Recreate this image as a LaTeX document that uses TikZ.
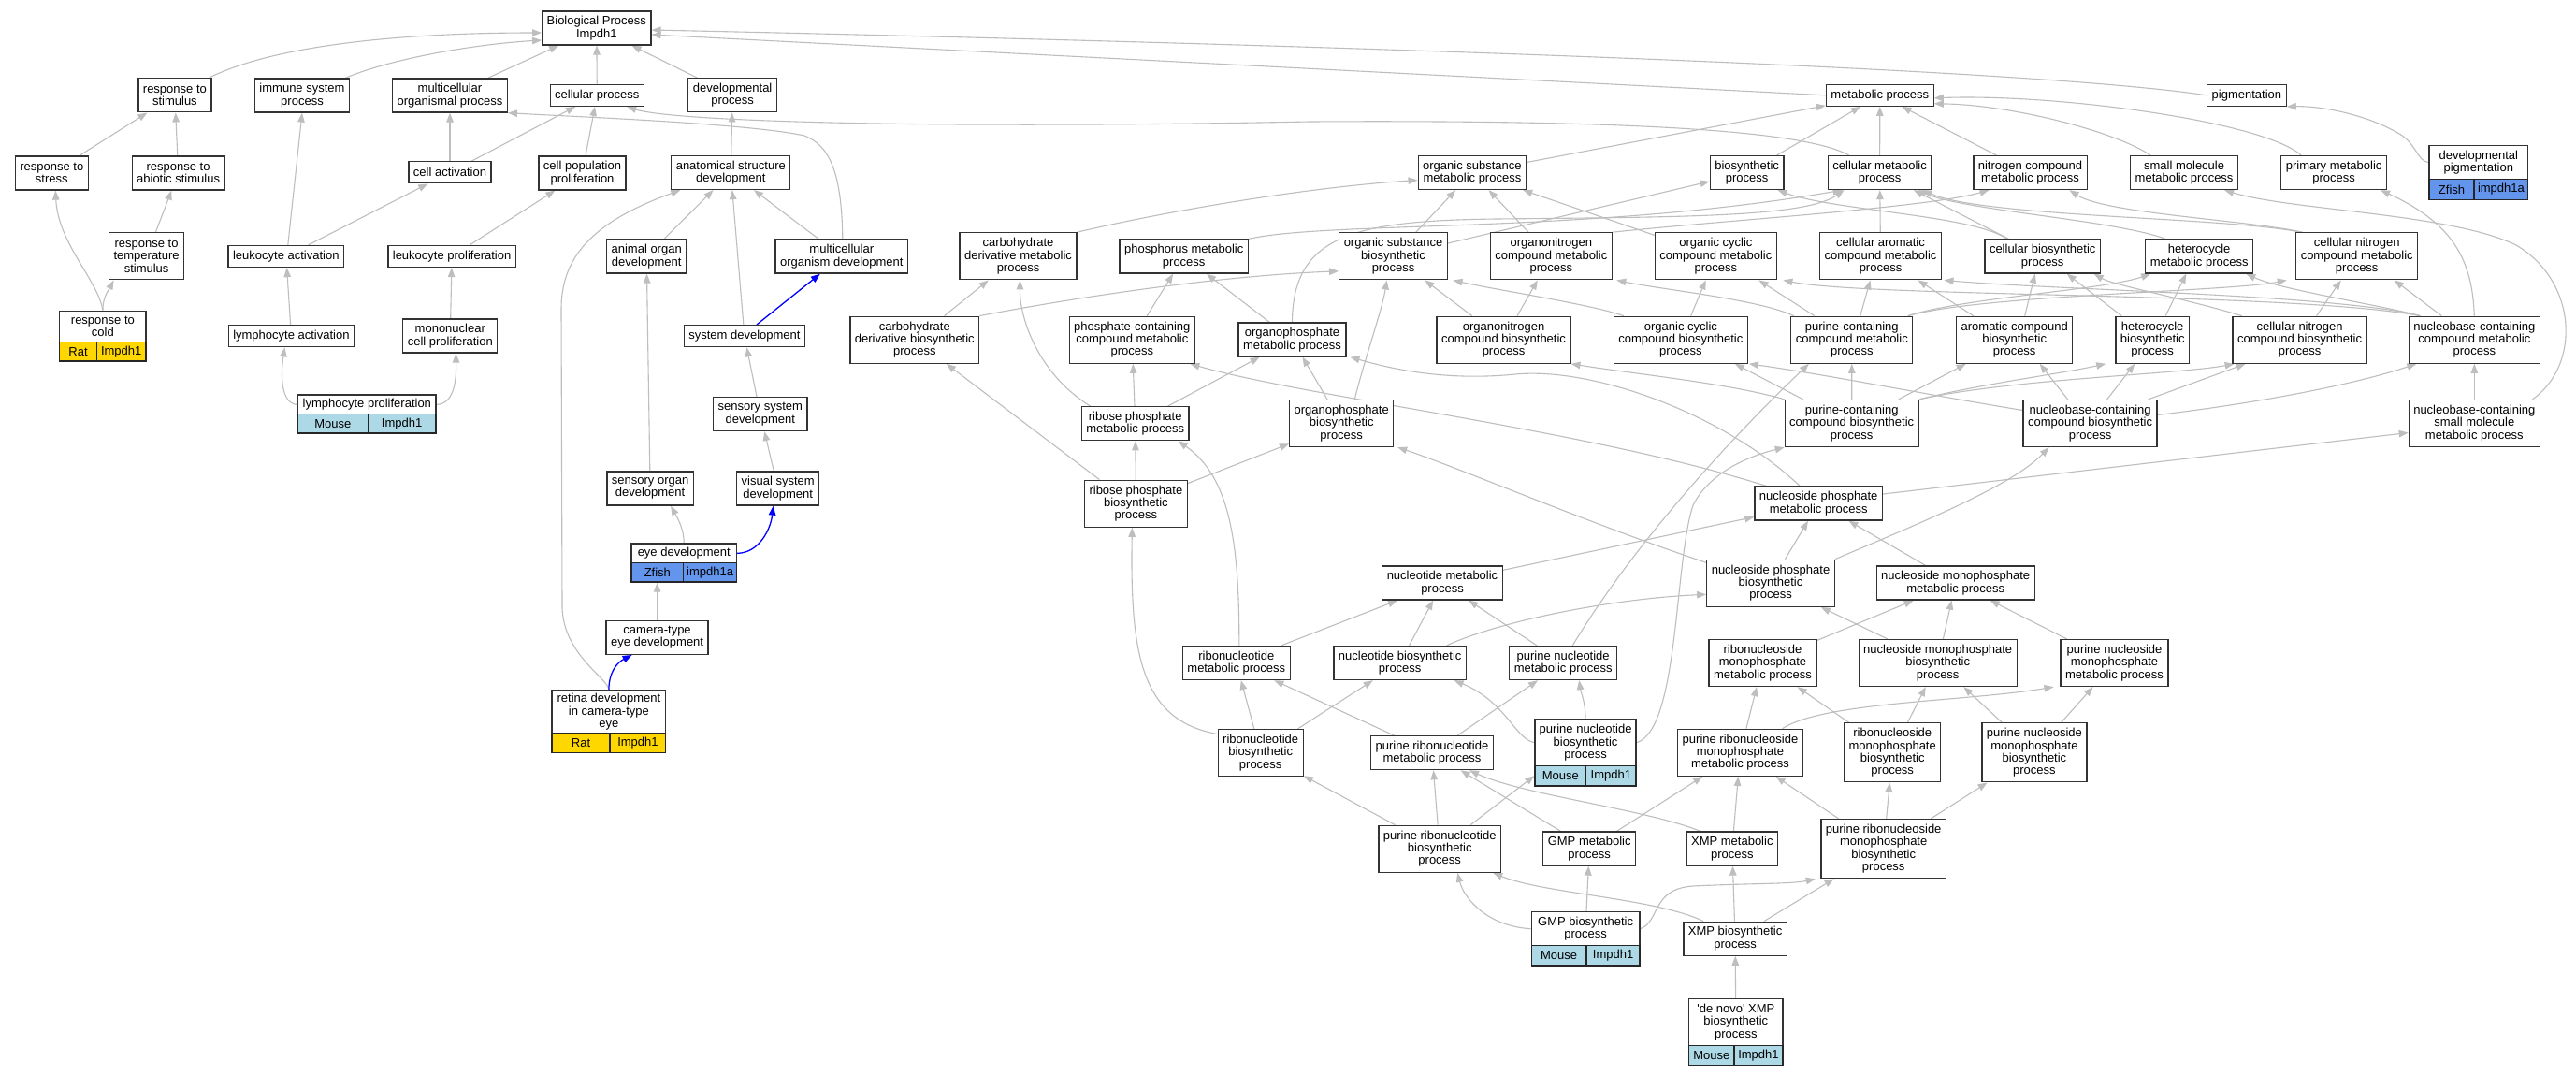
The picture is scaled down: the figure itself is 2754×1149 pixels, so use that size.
\documentclass[tikz,border=0pt]{standalone}
\usepackage{fontspec}
\setmainfont{Liberation Sans}[Ligatures=TeXOff]
\usetikzlibrary{arrows.meta}
\pgfdeclarelayer{bg}
\pgfsetlayers{bg,main}
\definecolor{edgegray}{HTML}{BEBEBE}
\definecolor{ratgold}{HTML}{FFD700}
\definecolor{mouseblue}{HTML}{ADD8E6}
\definecolor{fishblue}{HTML}{6495ED}
\newcommand\nodefont{\fontsize{13}{13.3}\selectfont}
\tikzset{
  gbox/.style={draw=black!80, line width=1.3pt, fill=white, align=center, inner xsep=5pt, inner ysep=1pt, font=\nodefont},
  lineone/.style={gbox, minimum height=23pt},
  linetwo/.style={gbox, minimum height=36pt},
  linethree/.style={gbox, minimum height=50pt},
  linefour/.style={gbox, minimum height=63pt},
  genehead/.style={gbox, inner xsep=2pt},
  genecell/.style={draw=black!85, line width=1.3pt, inner sep=0pt, font=\nodefont},
  gedge/.style={draw=edgegray, line width=1.1pt, -{Triangle[length=10pt,width=7.5pt]}},
  bedge/.style={draw=blue, line width=1.3pt, -{Triangle[length=10pt,width=7.5pt]}}
}
\begin{document}
\begin{tikzpicture}[x=1pt,y=-1pt]
\useasboundingbox (0,0) rectangle (2754,1149);
\begin{pgfonlayer}{bg}
\fill[white] (0,0) rectangle (2754,1149);
\end{pgfonlayer}
% rank 0
\node[linetwo] (BP) at (637.8,30) {Biological Process\\Impdh1};
% rank 1
\node[linetwo] (rstim) at (186.9,101.8) {response to\\stimulus};
\node[linetwo] (immune) at (323,102) {immune system\\process};
\node[linetwo] (multorg) at (481,102) {multicellular\\organismal process};
\node[lineone] (cellproc) at (638.3,101.8) {cellular process};
\node[linetwo] (devproc) at (783.1,101.8) {developmental\\process};
\node[lineone] (metab) at (2009.8,101.8) {metabolic process};
\node[lineone] (pigment) at (2401.9,101.8) {pigmentation};
% rank 2
\node[linetwo] (rstress) at (55.3,185) {response to\\stress};
\node[linetwo] (rabiotic) at (190.6,185) {response to\\abiotic stimulus};
\node[lineone] (cellact) at (481,184.3) {cell activation};
\node[linetwo] (cellpop) at (622.5,185) {cell population\\proliferation};
\node[linetwo] (anat) at (781.3,184.5) {anatomical structure\\development};
\node[linetwo] (osmp) at (1573.9,184.5) {organic substance\\metabolic process};
\node[linetwo] (biosyn) at (1867.6,184.5) {biosynthetic\\process};
\node[linetwo] (cmp) at (2009.6,184.5) {cellular metabolic\\process};
\node[linetwo] (ncmp) at (2170.5,184.5) {nitrogen compound\\metabolic process};
\node[linetwo] (smmp) at (2335.1,184.5) {small molecule\\metabolic process};
\node[linetwo] (pmp) at (2495.1,184.5) {primary metabolic\\process};
\node[genehead, minimum width=105.8pt, minimum height=36.4pt] (devpig) at (2649.8,173.5) {developmental\\pigmentation};
\node[genecell, fill=fishblue, minimum width=48.2pt, minimum height=21.6pt] (devpigA) at (2621,202.5) {Zfish};
\node[genecell, fill=fishblue, minimum width=57.6pt, minimum height=21.6pt] (devpigB) at (2673.9,202.5) {impdh1a};
% rank 3
\node[linethree] (rtemp) at (156.6,273.8) {response to\\temperature\\stimulus};
\node[lineone] (leukact) at (305.8,274) {leukocyte activation};
\node[lineone] (leukprolif) at (483.1,274) {leukocyte proliferation};
\node[linetwo] (aod) at (691.2,274) {animal organ\\development};
\node[linetwo] (moddev) at (899.8,274) {multicellular\\organism development};
\node[linethree] (cdmp) at (1088.5,273.8) {carbohydrate\\derivative metabolic\\process};
\node[linetwo] (phosmp) at (1265.7,274) {phosphorus metabolic\\process};
\node[linethree] (osbp) at (1489.5,273.8) {organic substance\\biosynthetic\\process};
\node[linethree] (onmp) at (1658.3,273.8) {organonitrogen\\compound metabolic\\process};
\node[linethree] (occmp) at (1834.4,273.8) {organic cyclic\\compound metabolic\\process};
\node[linethree] (cacmp) at (2010.5,273.8) {cellular aromatic\\compound metabolic\\process};
\node[linetwo] (cbp) at (2183.7,274) {cellular biosynthetic\\process};
\node[linetwo] (hmp) at (2351.2,274) {heterocycle\\metabolic process};
\node[linethree] (cncmp) at (2519.7,273.8) {cellular nitrogen\\compound metabolic\\process};
% rank 4
\node[genehead, minimum width=92.4pt, minimum height=33.4pt] (rcold) at (109.9,349) {response to\\cold};
\node[genecell, fill=ratgold, minimum width=39.6pt, minimum height=20.3pt] (rcoldA) at (83.5,375.85) {Rat};
\node[genecell, fill=ratgold, minimum width=52.8pt, minimum height=20.3pt] (rcoldB) at (129.7,375.85) {Impdh1};
\node[lineone] (lymphact) at (311.4,359.2) {lymphocyte activation};
\node[linetwo] (mononuc) at (481.3,359) {mononuclear\\cell proliferation};
\node[lineone] (sysdev) at (795.9,359.2) {system development};
\node[linethree] (cdbp) at (977.8,363.2) {carbohydrate\\derivative biosynthetic\\process};
\node[linethree] (pccmp) at (1210.3,363.2) {phosphate-containing\\compound metabolic\\process};
\node[linetwo] (opmp) at (1381.5,363) {organophosphate\\metabolic process};
\node[linethree] (onbp) at (1607.5,363.2) {organonitrogen\\compound biosynthetic\\process};
\node[linethree] (occbp) at (1796.9,363.2) {organic cyclic\\compound biosynthetic\\process};
\node[linethree] (purcmp) at (1979.8,363.2) {purine-containing\\compound metabolic\\process};
\node[linethree] (acbp) at (2153.7,363.2) {aromatic compound\\biosynthetic\\process};
\node[linethree] (hbp) at (2301.2,363.2) {heterocycle\\biosynthetic\\process};
\node[linethree] (cncbp) at (2458.6,363.2) {cellular nitrogen\\compound biosynthetic\\process};
\node[linethree] (nbccmp) at (2645.3,363.2) {nucleobase-containing\\compound metabolic\\process};
% rank 5
\node[genehead, minimum width=147.5pt, minimum height=20.7pt] (lymphprolif) at (392.35,432.35) {lymphocyte proliferation};
\node[genecell, fill=mouseblue, minimum width=74.6pt, minimum height=20.3pt] (lpA) at (355.9,452.85) {Mouse};
\node[genecell, fill=mouseblue, minimum width=72.9pt, minimum height=20.3pt] (lpB) at (429.65,452.85) {Impdh1};
\node[linetwo] (ssd) at (812.8,442.5) {sensory system\\development};
\node[linetwo] (rpmp) at (1213.7,452.7) {ribose phosphate\\metabolic process};
\node[linethree] (opbp) at (1434.2,452.5) {organophosphate\\biosynthetic\\process};
\node[linethree] (purcbp) at (1979.7,452.5) {purine-containing\\compound biosynthetic\\process};
\node[linethree] (nbcbp) at (2234.6,452.5) {nucleobase-containing\\compound biosynthetic\\process};
\node[linethree] (nbcsmmp) at (2645.3,452.5) {nucleobase-containing\\small molecule\\metabolic process};
% rank 6
\node[linetwo] (sod) at (695.1,522) {sensory organ\\development};
\node[linetwo] (vsd) at (831.7,522) {visual system\\development};
\node[linethree] (rpbp) at (1214.4,538.2) {ribose phosphate\\biosynthetic\\process};
\node[linetwo] (npmp) at (1944.2,538) {nucleoside phosphate\\metabolic process};
% rank 7
\node[genehead, minimum width=112.5pt, minimum height=20.7pt] (eyedev) at (731.25,591.35) {eye development};
\node[genecell, fill=fishblue, minimum width=55.7pt, minimum height=20.3pt] (eyeA) at (702.85,611.85) {Zfish};
\node[genecell, fill=fishblue, minimum width=56.8pt, minimum height=20.3pt] (eyeB) at (759.1,611.85) {impdh1a};
\node[linetwo] (nmp) at (1542,623) {nucleotide metabolic\\process};
\node[linethree] (npbp) at (1893,623.3) {nucleoside phosphate\\biosynthetic\\process};
\node[linetwo] (nmmp) at (2090.7,623) {nucleoside monophosphate\\metabolic process};
% rank 8
\node[linetwo] (camera) at (702.6,681.3) {camera-type\\eye development};
\node[linetwo] (rnmp) at (1321.8,708.5) {ribonucleotide\\metabolic process};
\node[linetwo] (ntbp) at (1496.7,708.5) {nucleotide biosynthetic\\process};
\node[linetwo] (pnmp) at (1671.2,708.5) {purine nucleotide\\metabolic process};
\node[linethree] (rnmmp) at (1884.5,708.5) {ribonucleoside\\monophosphate\\metabolic process};
\node[linethree] (nmbp) at (2071.7,708.5) {nucleoside monophosphate\\biosynthetic\\process};
\node[linethree] (pnmmp) at (2260.5,708.5) {purine nucleoside\\monophosphate\\metabolic process};
% rank 9
\node[genehead, minimum width=121.8pt, minimum height=46.3pt] (retina) at (650.9,760.85) {retina development\\in camera-type\\eye};
\node[genecell, fill=ratgold, minimum width=62.1pt, minimum height=20.3pt] (retA) at (621.05,794.15) {Rat};
\node[genecell, fill=ratgold, minimum width=59.7pt, minimum height=20.3pt] (retB) at (681.95,794.15) {Impdh1};
\node[linethree] (rnbp) at (1347.7,804.5) {ribonucleotide\\biosynthetic\\process};
\node[linetwo] (prnmp) at (1531,804.7) {purine ribonucleotide\\metabolic process};
\node[genehead, minimum width=108.1pt, minimum height=49.3pt] (pnbp) at (1695.05,793.65) {purine nucleotide\\biosynthetic\\process};
\node[genecell, fill=mouseblue, minimum width=54.5pt, minimum height=21.7pt] (pnbpA) at (1668.25,829.15) {Mouse};
\node[genecell, fill=mouseblue, minimum width=53.6pt, minimum height=21.7pt] (pnbpB) at (1722.3,829.15) {Impdh1};
\node[linethree] (prnmmp) at (1860.5,804.3) {purine ribonucleoside\\monophosphate\\metabolic process};
\node[linefour] (rnmbp) at (2023.2,804.3) {ribonucleoside\\monophosphate\\biosynthetic\\process};
\node[linefour] (pnmbp) at (2174.9,804.3) {purine nucleoside\\monophosphate\\biosynthetic\\process};
% rank 10
\node[linethree] (prnbp) at (1539.2,907.2) {purine ribonucleotide\\biosynthetic\\process};
\node[linetwo] (gmpmp) at (1699.2,907) {GMP metabolic\\process};
\node[linetwo] (xmpmp) at (1851.8,907) {XMP metabolic\\process};
\node[linefour] (prnmbp) at (2013.7,907.2) {purine ribonucleoside\\monophosphate\\biosynthetic\\process};
% rank 11
\node[genehead, minimum width=115.8pt, minimum height=36pt] (gmpbp) at (1695.1,992.7) {GMP biosynthetic\\process};
\node[genecell, fill=mouseblue, minimum width=58.9pt, minimum height=21.3pt] (gmpA) at (1666.65,1021.35) {Mouse};
\node[genecell, fill=mouseblue, minimum width=56.9pt, minimum height=21.3pt] (gmpB) at (1724.55,1021.35) {Impdh1};
\node[linetwo] (xmpbp) at (1855.1,1003.2) {XMP biosynthetic\\process};
% rank 12
\node[genehead, minimum width=100.4pt, minimum height=49.6pt] (denovo) at (1855.8,1092.5) {'de novo' XMP\\biosynthetic\\process};
\node[genecell, fill=mouseblue, minimum width=48.3pt, minimum height=21pt] (dnA) at (1829.75,1127.8) {Mouse};
\node[genecell, fill=mouseblue, minimum width=52.1pt, minimum height=21pt] (dnB) at (1879.95,1127.8) {Impdh1};

\begin{pgfonlayer}{bg}
% ---- upper / developmental part
\draw[gedge] ([xshift=-3pt]rstim.north east) .. controls (300,45) and (450,35) .. ([yshift=-5pt]BP.west);
\draw[gedge] ([xshift=-5pt]immune.north east) .. controls (420,62) and (510,47) .. ([yshift=-13pt]BP.west);
\draw[gedge] (multorg) -- (BP);
\draw[gedge] (cellproc) -- (BP);
\draw[gedge] (devproc) -- (BP);
\draw[gedge] (metab.west) -- ([yshift=-7pt]BP.east);
\draw[gedge] (pigment.west) .. controls (2150,70) and (1300,45) .. ([yshift=-2pt]BP.east);
\draw[gedge] (rstress) -- (rstim);
\draw[gedge] (rabiotic) -- (rstim);
\draw[gedge] (rtemp) -- (rabiotic);
\draw[gedge] (rcold.north) .. controls (105,300) and (62,260) .. ([xshift=4pt]rstress.south);
\draw[gedge] (rcold.north) .. controls (110,318) and (115,312) .. ([xshift=-35pt]rtemp.south);
\draw[gedge] ([xshift=2pt]leukact.north) -- (immune.south);
\draw[gedge] (leukact) -- (cellact);
\draw[gedge] (cellact) -- (cellproc);
\draw[gedge] (cellpop) -- (cellproc);
\draw[gedge] (cellact) -- (multorg);
\draw[gedge] (leukprolif) -- (cellpop);
\draw[gedge] (lymphact) -- (leukact);
\draw[gedge] (mononuc) -- (leukprolif);
\draw[gedge] (lymphprolif.west) .. controls (300,432) and (300,400) .. ([xshift=-7pt]lymphact.south);
\draw[gedge] (lymphprolif.east) .. controls (486,432) and (488,405) .. ([xshift=6pt]mononuc.south);
\draw[gedge] ([xshift=-33pt]cmp.north) .. controls (1930,140) and (1750,128) .. (1400,130) .. controls (1000,138) and (720,130) .. ([xshift=32pt]cellproc.south);
\draw[gedge] ([xshift=1pt]moddev.north) .. controls (900,180) and (885,155) .. (860,145) .. controls (800,132) and (620,125) .. (multorg.south east);
\draw[gedge] (anat) -- (devproc);
\draw[gedge] (aod) -- (anat);
\draw[gedge] (sysdev) -- (anat);
\draw[gedge] (moddev) -- (anat);
\draw[gedge] (retina.north) .. controls (650,725) and (603,700) .. (601,650) -- (600,330) .. controls (600,270) and (640,235) .. ([xshift=-54pt]anat.south);
\draw[bedge] ([xshift=13pt]sysdev.north) -- ([xshift=-23pt]moddev.south);
\draw[gedge] (sod) -- (aod);
\draw[gedge] (ssd) -- (sysdev);
\draw[gedge] (vsd) -- (ssd);
\draw[gedge] (eyedev.north) .. controls (731,565) and (725,555) .. ([xshift=22pt]sod.south);
\draw[bedge] (eyedev.east) .. controls (812,591) and (824,565) .. ([xshift=-5pt]vsd.south);
\draw[gedge] (camera.north) -- (camera.north |- eyeA.south);
\draw[bedge] (retina.north) .. controls (651,718) and (660,708) .. ([xshift=-27pt]camera.south);
\draw[gedge] (devpig.west) .. controls (2585,173) and (2582,152) .. (2565,143) .. controls (2530,122) and (2480,113) .. (pigment.south east);
% ---- metabolic part, rank 2
\draw[gedge] (osmp) -- (metab);
\draw[gedge] (biosyn) -- (metab);
\draw[gedge] (cmp) -- (metab);
\draw[gedge] (ncmp) -- (metab);
\draw[gedge] ([xshift=-36pt]smmp.north) .. controls (2260,140) and (2150,112) .. ([yshift=-9pt]metab.east);
\draw[gedge] ([xshift=-35pt]pmp.north) .. controls (2420,130) and (2200,100) .. ([yshift=-3pt]metab.east);
% rank 3
\draw[gedge] (cdmp.north east) .. controls (1250,225) and (1400,200) .. ([yshift=-8pt]osmp.west);
\draw[gedge] (phosmp.north east) .. controls (1420,236) and (1700,250) .. ([xshift=-40pt]cmp.south);
\draw[gedge] (osbp) -- (osmp);
\draw[gedge] (osbp) -- (biosyn);
\draw[gedge] (onmp) -- (osmp);
\draw[gedge] (onmp.north east) .. controls (1850,235) and (2060,222) .. ([xshift=-44pt]ncmp.south);
\draw[gedge] (occmp) -- (osmp);
\draw[gedge] (cacmp) -- (cmp);
\draw[gedge] ([xshift=-38pt]cbp.north) .. controls (2110,230) and (1960,225) .. ([xshift=33pt]biosyn.south);
\draw[gedge] (cbp) -- (cmp);
\draw[gedge] ([xshift=-36pt]hmp.north) .. controls (2260,235) and (2100,225) .. ([xshift=40pt]cmp.south);
\draw[gedge] ([xshift=-60pt]cncmp.north) .. controls (2380,232) and (2120,232) .. ([xshift=46pt]cmp.south);
\draw[gedge] ([xshift=-58pt]cncmp.north) .. controls (2400,235) and (2250,228) .. ([xshift=42pt]ncmp.south);
% rank 4
\draw[gedge] (cdbp) -- (cdmp);
\draw[gedge] (cdbp.north east) .. controls (1150,318) and (1300,295) .. ([yshift=-16pt]osbp.west);
\draw[gedge] (pccmp) -- (phosmp);
\draw[gedge] (opmp) -- (phosmp);
\draw[gedge] (opmp.north) .. controls (1382,250) and (1450,236) .. (1600,234) .. controls (1800,232) and (1930,232) .. ([xshift=-38pt]cmp.south);
\draw[gedge] (onbp) -- (onmp);
\draw[gedge] (onbp) -- (osbp);
\draw[gedge] (occbp) -- (occmp);
\draw[gedge] ([xshift=-61pt]occbp.north) .. controls (1700,325) and (1600,310) .. ([xshift=64pt]osbp.south);
\draw[gedge] ([xshift=-62pt]purcmp.north) .. controls (1880,320) and (1780,310) .. ([xshift=70pt]onmp.south);
\draw[gedge] ([xshift=-40pt]purcmp.north) -- ([xshift=46pt]occmp.south);
\draw[gedge] ([xshift=9pt]purcmp.north) -- ([xshift=-11pt]cacmp.south);
\draw[gedge] ([xshift=60pt]purcmp.north) .. controls (2100,318) and (2250,310) .. ([xshift=-52pt]hmp.south);
\draw[gedge] ([xshift=60pt]purcmp.north) .. controls (2120,315) and (2380,312) .. ([xshift=-75pt]cncmp.south);
\draw[gedge] ([xshift=-44pt]acbp.north) -- ([xshift=40pt]cacmp.south);
\draw[gedge] ([xshift=11pt]acbp.north) -- ([xshift=-8pt]cbp.south);
\draw[gedge] ([xshift=14pt]hbp.north) -- ([xshift=-14pt]hmp.south);
\draw[gedge] ([xshift=-33pt]hbp.north) -- ([xshift=26pt]cbp.south);
\draw[gedge] ([xshift=18pt]cncbp.north) -- ([xshift=-17pt]cncmp.south);
\draw[gedge] ([xshift=-62pt]cncbp.north) .. controls (2340,320) and (2260,305) .. ([xshift=55pt]cbp.south);
\draw[gedge] ([xshift=-58pt]nbccmp.north) .. controls (2500,315) and (2200,310) .. ([xshift=68pt]cacmp.south);
\draw[gedge] ([xshift=-58pt]nbccmp.north) .. controls (2450,312) and (2000,318) .. ([xshift=72pt]occmp.south);
\draw[gedge] ([xshift=-58pt]nbccmp.north) .. controls (2540,325) and (2440,310) .. ([xshift=50pt]hmp.south);
\draw[gedge] ([xshift=-35pt]nbccmp.north) -- ([xshift=40pt]cncmp.south);
\draw[gedge] (nbccmp.north) .. controls (2643,280) and (2625,240) .. ([xshift=50pt]pmp.south);
% rank 5
\draw[gedge] (nbcsmmp) -- (nbccmp);
\draw[gedge] ([xshift=62pt]nbcsmmp.north) .. controls (2760,390) and (2755,300) .. (2690,262) .. controls (2620,228) and (2450,225) .. ([xshift=43pt]smmp.south);
\draw[gedge] ([xshift=-48pt]rpmp.north) .. controls (1110,400) and (1090,340) .. ([xshift=2pt]cdmp.south);
\draw[gedge] (rpmp) -- (pccmp);
\draw[gedge] (rpmp) -- (opmp);
\draw[gedge] (opbp) -- (opmp);
\draw[gedge] ([xshift=14pt]opbp.north) .. controls (1460,380) and (1478,330) .. ([xshift=-7pt]osbp.south);
\draw[gedge] (purcbp) -- (purcmp);
\draw[gedge] ([xshift=-72pt]purcbp.north) .. controls (1850,410) and (1750,400) .. ([xshift=72pt]onbp.south);
\draw[gedge] ([xshift=-52pt]purcbp.north) -- ([xshift=58pt]occbp.south);
\draw[gedge] ([xshift=50pt]purcbp.north) -- ([xshift=-52pt]acbp.south);
\draw[gedge] (purcbp.north east) .. controls (2120,410) and (2200,400) .. ([xshift=-50pt]hbp.south);
\draw[gedge] (purcbp.north east) .. controls (2150,405) and (2330,400) .. ([xshift=-70pt]cncbp.south);
\draw[gedge] ([yshift=9pt]nbcbp.east) .. controls (2420,430) and (2520,410) .. ([xshift=-62pt]nbccmp.south);
\draw[gedge] ([xshift=62pt]nbcbp.north) -- ([xshift=-58pt]cncbp.south);
\draw[gedge] ([xshift=18pt]nbcbp.north) -- ([xshift=-19pt]hbp.south);
\draw[gedge] ([xshift=-24pt]nbcbp.north) -- ([xshift=27pt]acbp.south);
\draw[gedge] ([yshift=14pt]nbcbp.west) .. controls (2050,420) and (1950,400) .. ([xshift=73pt]occbp.south);
% rank 6
\draw[gedge] (rpbp) -- (rpmp);
\draw[gedge] ([xshift=-39pt]rpbp.north) -- ([xshift=34pt]cdbp.south);
\draw[gedge] (rpbp) -- (opbp);
\draw[gedge] ([xshift=-20pt]npmp.north) .. controls (1840,440) and (1700,392) .. (1620,400) .. controls (1540,408) and (1480,392) .. ([xshift=62pt]opmp.south);
\draw[gedge] ([xshift=-56pt]npmp.north) .. controls (1700,460) and (1400,425) .. ([xshift=62pt]pccmp.south);
\draw[gedge] ([yshift=10pt]npmp.east) -- ([yshift=-10pt]nbcsmmp.west);
% rank 7
\draw[gedge] (nmp) -- (npmp);
\draw[gedge] (npbp) -- (npmp);
\draw[gedge] ([yshift=22pt]npbp.west) .. controls (1700,560) and (1560,500) .. ([xshift=60pt]opbp.south);
\draw[gedge] (npbp.north east) .. controls (2050,560) and (2150,520) .. ([xshift=-44pt]nbcbp.south);
\draw[gedge] (nmmp) -- (npmp);
% rank 8
\draw[gedge] (rnmp) -- (nmp);
\draw[gedge] ([xshift=3pt]rnmp.north) .. controls (1325,580) and (1315,510) .. ([xshift=46pt]rpmp.south);
\draw[gedge] (ntbp) -- (nmp);
\draw[gedge] ([xshift=50pt]ntbp.north) .. controls (1600,665) and (1720,640) .. ([yshift=-12pt]npbp.west);
\draw[gedge] (pnmp) -- (nmp);
\draw[gedge] ([xshift=10pt]pnmp.north) .. controls (1760,560) and (1880,440) .. ([xshift=-46pt]purcmp.south);
\draw[gedge] (rnmmp) -- (nmmp);
\draw[gedge] (nmbp) -- (nmmp);
\draw[gedge] (nmbp) -- (npbp);
\draw[gedge] (pnmmp) -- (nmmp);
% rank 9
\draw[gedge] (rnbp) -- (rnmp);
\draw[gedge] (rnbp) -- (ntbp);
\draw[gedge] ([yshift=20pt]rnbp.west) .. controls (1220,770) and (1208,700) .. ([xshift=-4pt]rpbp.south);
\draw[gedge] (prnmp) -- (rnmp);
\draw[gedge] (prnmp) -- (pnmp);
\draw[gedge] (pnbp.north) .. controls (1695,750) and (1690,740) .. ([xshift=17pt]pnmp.south);
\draw[gedge] (pnbp.west) .. controls (1620,790) and (1610,750) .. ([xshift=58pt]ntbp.south);
\draw[gedge] (pnbp.east) .. controls (1795,780) and (1790,600) .. (1810,540) .. controls (1830,500) and (1880,485) .. ([xshift=-72pt]purcbp.south);
\draw[gedge] (prnmmp) -- (rnmmp);
\draw[gedge] ([xshift=45pt]prnmmp.north) .. controls (1950,750) and (2100,750) .. ([xshift=-65pt]pnmmp.south);
\draw[gedge] (rnmbp) -- (rnmmp);
\draw[gedge] (rnmbp) -- (nmbp);
\draw[gedge] (pnmbp) -- (nmbp);
\draw[gedge] (pnmbp) -- (pnmmp);
% rank 10
\draw[gedge] (prnbp) -- (rnbp);
\draw[gedge] (prnbp) -- (prnmp);
\draw[gedge] ([xshift=33pt]prnbp.north) -- (pnbpA.west);
\draw[gedge] (gmpmp) -- (prnmp);
\draw[gedge] (gmpmp) -- (prnmmp);
\draw[gedge] (xmpmp) -- (prnmmp);
\draw[gedge] ([xshift=-34pt]xmpmp.north) .. controls (1760,865) and (1630,850) .. ([xshift=40pt]prnmp.south);
\draw[gedge] (prnmbp) -- (prnmmp);
\draw[gedge] (prnmbp) -- (rnmbp);
\draw[gedge] (prnmbp) -- (pnmbp);
% rank 11
\draw[gedge] (gmpbp) -- (gmpmp);
\draw[gedge] (gmpbp.west) .. controls (1590,990) and (1565,960) .. ([xshift=19pt]prnbp.south);
\draw[gedge] (gmpbp.east) .. controls (1775,985) and (1765,950) .. (1810,947) .. controls (1870,944) and (1915,945) .. ([xshift=-73pt]prnmbp.south);
\draw[gedge] (xmpbp) -- (xmpmp);
\draw[gedge] ([xshift=-34pt]xmpbp.north) .. controls (1770,960) and (1650,955) .. ([xshift=57pt]prnbp.south);
\draw[gedge] (xmpbp) -- (prnmbp);
% rank 12
\draw[gedge] (denovo) -- (xmpbp);
\end{pgfonlayer}
\end{tikzpicture}
\end{document}
